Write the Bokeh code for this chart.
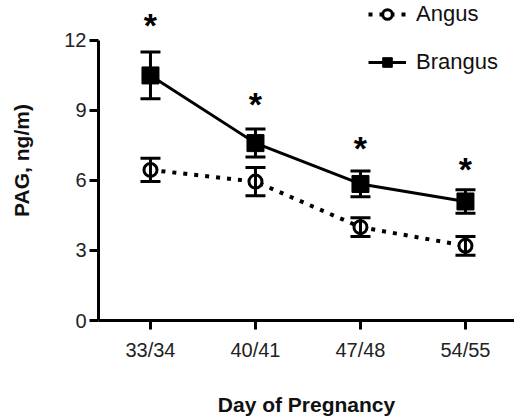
import numpy as np
from bokeh.plotting import figure
from bokeh.models import (ColumnDataSource, Range1d, LinearAxis, FixedTicker, Whisker,
                          TeeHead, Legend, LegendItem)
from bokeh.core.properties import value
from bokeh.embed import file_html
from bokeh.resources import INLINE

days = ["33/34", "40/41", "47/48", "54/55"]
brangus = [10.5, 7.6, 5.85, 5.1]
brangus_err = [1.0, 0.6, 0.55, 0.5]
angus = [6.45, 5.95, 4.0, 3.2]
angus_err = [0.5, 0.6, 0.4, 0.4]
star_y = [13.02, 9.62, 7.72, 6.84]
y_ticks = [0, 3, 6, 9, 12]

FONT = "Liberation Sans"
xs = list(range(1, len(days) + 1))

src_b = ColumnDataSource(dict(x=xs, y=brangus,
                              lo=[v - e for v, e in zip(brangus, brangus_err)],
                              hi=[v + e for v, e in zip(brangus, brangus_err)]))
src_a = ColumnDataSource(dict(x=xs, y=angus,
                              lo=[v - e for v, e in zip(angus, angus_err)],
                              hi=[v + e for v, e in zip(angus, angus_err)]))

p = figure(width=514, height=419, output_backend="svg", toolbar_location=None,
           x_range=Range1d(0.505, 4.467), y_range=Range1d(0, 13.71),
           x_axis_type=None, y_axis_type=None,
           min_border_left=98, min_border_right=0, min_border_top=0, min_border_bottom=99)
p.outline_line_color = None
p.xgrid.visible = False
p.ygrid.visible = False

# axes
yax = LinearAxis(ticker=FixedTicker(ticks=y_ticks), bounds=(0, 12))
yax.axis_line_width = 3
yax.major_tick_line_width = 3
yax.major_tick_out = 9
yax.major_tick_in = 0
yax.minor_tick_line_color = None
yax.major_label_text_font = FONT
yax.major_label_text_font_size = "20px"
yax.major_label_text_color = "#222222"
yax.major_label_standoff = 3
yax.axis_label = "PAG, ng/m)"
yax.axis_label_text_font = FONT
yax.axis_label_text_font_size = "21px"
yax.axis_label_text_font_style = "bold"
yax.axis_label_text_color = "#111111"
yax.axis_label_standoff = 28
p.add_layout(yax, "left")

xax = LinearAxis(ticker=FixedTicker(ticks=xs),
                 major_label_overrides={x: d for x, d in zip(xs, days)})
xax.axis_line_width = 3
xax.major_tick_line_width = 3
xax.major_tick_out = 9
xax.major_tick_in = 0
xax.minor_tick_line_color = None
xax.major_label_text_font = FONT
xax.major_label_text_font_size = "20px"
xax.major_label_text_color = "#222222"
xax.major_label_standoff = 9
xax.axis_label = "Day of Pregnancy"
xax.axis_label_text_font = FONT
xax.axis_label_text_font_size = "21px"
xax.axis_label_text_font_style = "bold"
xax.axis_label_text_color = "#111111"
xax.axis_label_standoff = 29
p.add_layout(xax, "below")

# error bars
for src in (src_a, src_b):
    w = Whisker(source=src, base="x", lower="lo", upper="hi", line_width=3, line_color="black",
                upper_head=TeeHead(size=20, line_width=3, line_color="black"),
                lower_head=TeeHead(size=20, line_width=3, line_color="black"),
                level="glyph")
    p.add_layout(w)

a_line = p.line("x", "y", source=src_a, line_width=4, line_dash="4 7", line_color="black")
a_pts = p.scatter("x", "y", source=src_a, marker="circle", size=13, fill_color="white",
                  line_color="black", line_width=3)
b_line = p.line("x", "y", source=src_b, line_width=3, line_color="black")
b_pts = p.scatter("x", "y", source=src_b, marker="square", size=17, fill_color="black",
                  line_color="black")

p.text(x=xs, y=star_y, text=["*"] * len(xs), text_font=value(FONT), text_font_size="34px",
       text_font_style="bold", text_align="center", text_baseline="middle", text_color="black",
       y_offset=8)

legend = Legend(items=[LegendItem(label="Angus", renderers=[a_line, a_pts]),
                       LegendItem(label="Brangus", renderers=[b_line, b_pts])],
                location=(270, 245), glyph_width=38, glyph_height=24, label_height=24,
                spacing=22, padding=0, margin=0, label_standoff=10,
                label_text_font=FONT, label_text_font_size="22px", label_text_color="#111111",
                border_line_color=None, background_fill_alpha=0)
p.add_layout(legend)

open("out.html", "w").write(file_html(p, INLINE))
